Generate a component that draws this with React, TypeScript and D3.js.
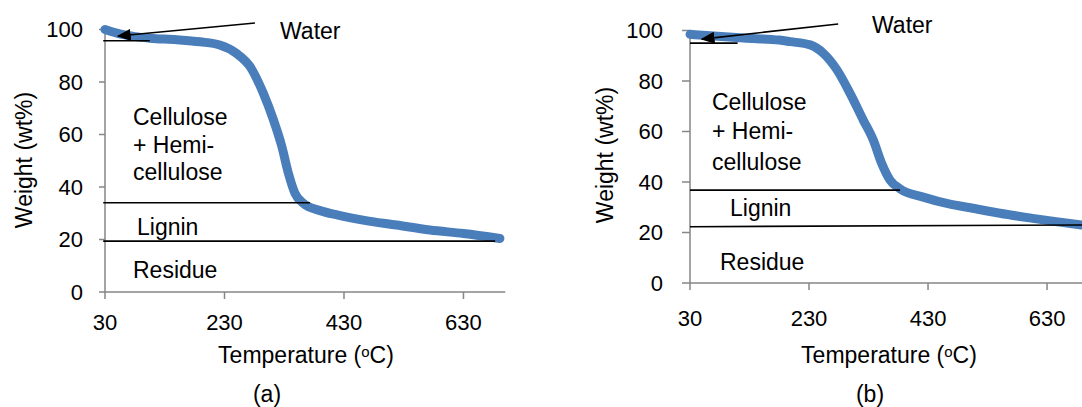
import React, { useRef, useEffect } from "react";
import * as d3 from "d3";

// panel (a) TGA curve
const tempA = [30, 50, 80, 105, 150, 189, 222, 250, 273, 295, 312, 326, 337, 348, 362, 390, 420, 462, 518, 574, 630, 691];
const weightA = [100, 98.6, 97.3, 96.7, 96.1, 95.3, 94.1, 90.9, 85.8, 75.7, 65.5, 55.4, 45.2, 37.6, 33.8, 31.0, 29.3, 27.4, 25.5, 23.6, 22.3, 20.4];

// panel (b) TGA curve
const tempB = [30, 70, 120, 180, 198, 232, 254, 277, 299, 321, 338, 352, 366, 383, 422, 467, 501, 551, 606, 688, 720];
const weightB = [98.5, 97.8, 97.0, 96.2, 95.6, 94.3, 91.0, 84.4, 75.1, 64.6, 56.6, 47.4, 40.8, 37.3, 34.0, 31.2, 29.8, 27.6, 25.6, 23.0, 22.1];

const xTicks = [30, 230, 430, 630];
const yTicks = [0, 20, 40, 60, 80, 100];

// region boundary lines [t1, w1, t2, w2]
const boundsA = [
  [27, 95.7, 105, 95.7],
  [27, 34.0, 373, 34.0],
  [27, 19.4, 683, 19.4],
];
const boundsB = [
  [30, 95.0, 110, 95.0],
  [30, 36.8, 383, 36.8],
  [30, 22.3, 720, 23.0],
];

// arrow [fromT, fromW, toT, toW]
const arrowA = [281, 102.5, 52, 97.5];
const arrowB = [279, 102.6, 50, 96.6];

const regionLabels = ["Cellulose", "+ Hemi-", "cellulose", "Lignin", "Residue", "Water"];

const Panel = ({ temps, weights, bounds, arrow, box, labelPos, tickLen, id }) => {
  const ref = useRef(null);

  useEffect(() => {
    const g = d3.select(ref.current);
    g.selectAll("*").remove();

    const x = d3.scaleLinear().domain([30, 700]).range([box.x0, box.x1]);
    const y = d3.scaleLinear().domain([0, 100]).range([box.y0, box.y1]);

    const font = "Liberation Sans, Arial, sans-serif";
    const axisColor = "#868686";

    // axes
    g.append("line")
      .attr("x1", x(30)).attr("x2", x(30))
      .attr("y1", y(0)).attr("y2", y(100))
      .attr("stroke", axisColor).attr("stroke-width", 1.5);
    g.append("line")
      .attr("x1", x(30)).attr("x2", x(700))
      .attr("y1", y(0)).attr("y2", y(0))
      .attr("stroke", axisColor).attr("stroke-width", 1.5);

    yTicks.forEach((v) => {
      g.append("line")
        .attr("x1", x(30) - tickLen).attr("x2", x(30))
        .attr("y1", y(v)).attr("y2", y(v))
        .attr("stroke", axisColor).attr("stroke-width", 1.5);
      g.append("text")
        .attr("x", x(30) - box.yLabGap).attr("y", y(v))
        .attr("dy", "0.36em").attr("text-anchor", "end")
        .attr("font-family", font).attr("font-size", 22)
        .text(v);
    });
    xTicks.forEach((v) => {
      g.append("line")
        .attr("x1", x(v)).attr("x2", x(v))
        .attr("y1", y(0)).attr("y2", y(0) + 7)
        .attr("stroke", axisColor).attr("stroke-width", 1.5);
      g.append("text")
        .attr("x", x(v)).attr("y", y(0) + box.xLabGap)
        .attr("dy", "0.36em").attr("text-anchor", "middle")
        .attr("font-family", font).attr("font-size", 22)
        .text(v);
    });

    // curve
    const pts = temps.map((t, i) => [t, weights[i]]);
    const line = d3.line().x((d) => x(d[0])).y((d) => y(d[1])).curve(d3.curveMonotoneX);
    g.append("path")
      .attr("d", line(pts))
      .attr("fill", "none")
      .attr("stroke", "#4a7ebb")
      .attr("stroke-width", 9)
      .attr("stroke-linecap", "round")
      .attr("stroke-linejoin", "round");

    // boundary lines
    bounds.forEach((b) => {
      g.append("line")
        .attr("x1", x(b[0])).attr("y1", y(b[1]))
        .attr("x2", x(b[2])).attr("y2", y(b[3]))
        .attr("stroke", "#000").attr("stroke-width", 1.6);
    });

    // water arrow
    g.append("defs").append("marker")
      .attr("id", "arr" + id)
      .attr("viewBox", "0 0 10 10")
      .attr("refX", 9).attr("refY", 5)
      .attr("markerWidth", 14).attr("markerHeight", 12)
      .attr("markerUnits", "userSpaceOnUse")
      .attr("orient", "auto")
      .attr("preserveAspectRatio", "none")
      .append("path").attr("d", "M0,0 L10,5 L0,10 Z").attr("fill", "#000");
    g.append("line")
      .attr("x1", x(arrow[0])).attr("y1", y(arrow[1]))
      .attr("x2", x(arrow[2])).attr("y2", y(arrow[3]))
      .attr("stroke", "#000").attr("stroke-width", 1.6)
      .attr("marker-end", "url(#arr" + id + ")");

    // region labels
    regionLabels.forEach((s, i) => {
      g.append("text")
        .attr("x", labelPos[i][0]).attr("y", labelPos[i][1])
        .attr("dy", "0.36em")
        .attr("font-family", font).attr("font-size", 23)
        .text(s);
    });

    // axis titles
    g.append("text")
      .attr("transform", `translate(${box.yTitleX},${box.yTitleY}) rotate(-90)`)
      .attr("dy", "0.36em").attr("text-anchor", "middle")
      .attr("font-family", font).attr("font-size", 23)
      .text("Weight (wt%)");
    const xt = g.append("text")
      .attr("x", box.xTitleX).attr("y", 355)
      .attr("dy", "0.36em").attr("text-anchor", "middle")
      .attr("font-family", font).attr("font-size", 23);
    xt.append("tspan").text("Temperature (");
    xt.append("tspan").attr("font-size", 15).attr("dy", "-0.45em").text("o");
    xt.append("tspan").attr("dy", "0.3em").text("C)");

    g.append("text")
      .attr("x", box.capX).attr("y", 394)
      .attr("dy", "0.36em").attr("text-anchor", "middle")
      .attr("font-family", font).attr("font-size", 23)
      .text(id === "a" ? "(a)" : "(b)");
  }, [temps, weights, bounds, arrow, box, labelPos, tickLen, id]);

  return <g ref={ref} />;
};

const boxA = { x0: 105, x1: 505.3, y0: 292, y1: 29.5, yLabGap: 22, xLabGap: 30, yTitleX: 24, yTitleY: 160, xTitleX: 306, capX: 267 };
const boxB = { x0: 690, x1: 1088.7, y0: 283, y1: 30.5, yLabGap: 27, xLabGap: 35, yTitleX: 605, yTitleY: 155, xTitleX: 889, capX: 870 };

const labelsA = [[133, 117], [133, 145], [133, 172], [137, 227], [133, 270], [280, 31]];
const labelsB = [[712, 102], [712, 131], [712, 162], [730, 208], [720, 262], [872, 25]];

export default function App() {
  return (
    <svg
      width={1082}
      height={407}
      style={{ position: "absolute", left: 0, top: 0, background: "#fff", overflow: "hidden" }}
    >
      <rect width={1082} height={407} fill="#fff" />
      <Panel id="a" temps={tempA} weights={weightA} bounds={boundsA} arrow={arrowA} box={boxA} labelPos={labelsA} tickLen={6} />
      <Panel id="b" temps={tempB} weights={weightB} bounds={boundsB} arrow={arrowB} box={boxB} labelPos={labelsB} tickLen={8} />
    </svg>
  );
}
